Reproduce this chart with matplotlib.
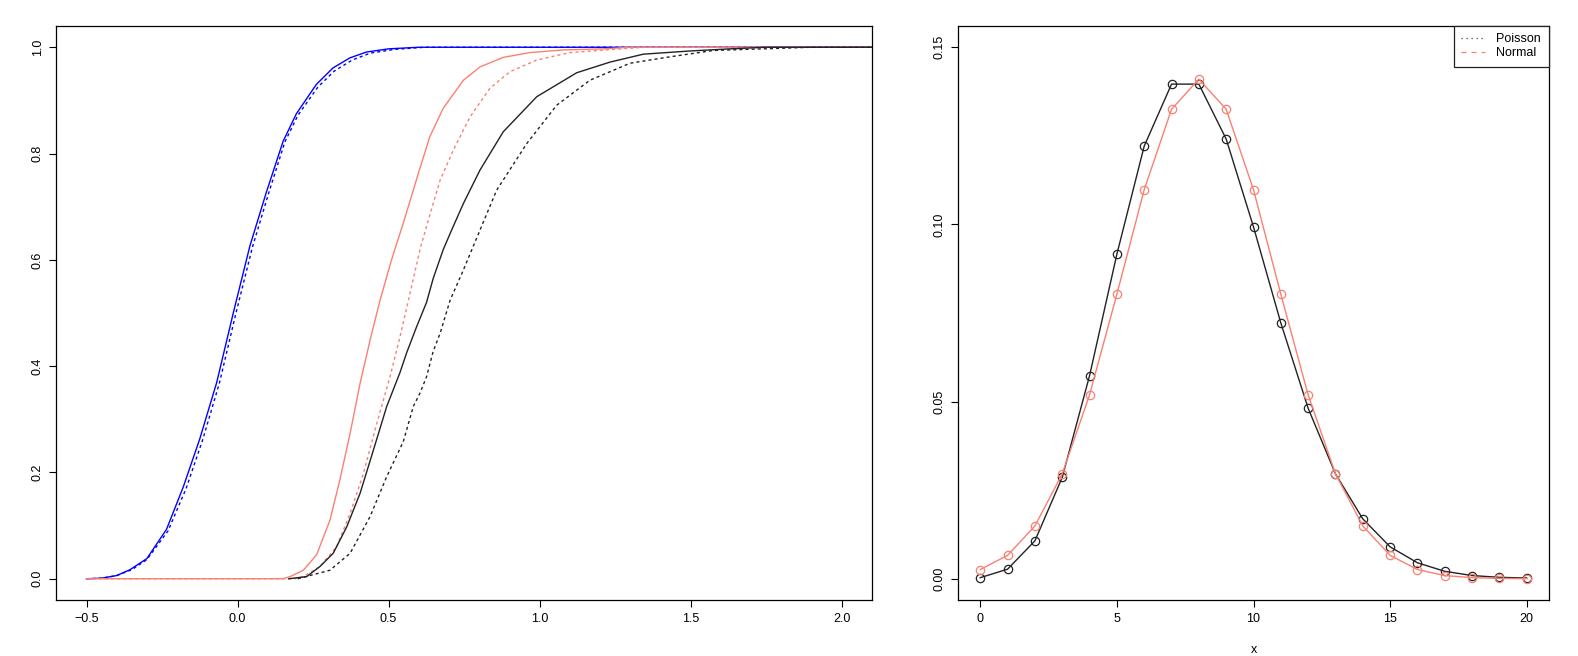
import matplotlib
matplotlib.use("Agg")
import matplotlib.pyplot as plt

plt.rcParams['font.family'] = ['Liberation Sans', 'DejaVu Sans']

blue_x = [-0.50, -0.45, -0.40, -0.356, -0.30, -0.235, -0.18, -0.125, -0.069, -0.014, 0.041,
          0.096, 0.151, 0.195, 0.261, 0.316, 0.372, 0.427, 0.50, 0.60, 2.10]
blue_F = [0.0, 0.001, 0.006, 0.017, 0.038, 0.093, 0.172, 0.263, 0.369, 0.50, 0.626,
          0.728, 0.823, 0.875, 0.930, 0.961, 0.980, 0.991, 0.997, 1.0, 1.0]
blue2_x = [-0.50, -0.45, -0.40, -0.35, -0.30, -0.23, -0.17, -0.115, -0.06, -0.005, 0.05,
           0.104, 0.157, 0.20, 0.266, 0.32, 0.38, 0.44, 0.52, 0.62, 2.10]
blue2_F = [0.0, 0.001, 0.006, 0.017, 0.036, 0.090, 0.170, 0.262, 0.368, 0.50, 0.625,
           0.727, 0.822, 0.872, 0.925, 0.955, 0.976, 0.989, 0.996, 1.0, 1.0]
red_x = [-0.50, 0.15, 0.174, 0.218, 0.262, 0.306, 0.339, 0.373, 0.406, 0.439, 0.472, 0.51,
         0.555, 0.60, 0.637, 0.681, 0.748, 0.803, 0.880, 0.969, 1.079, 1.211, 1.30, 2.10]
red_F = [0.0, 0.0, 0.004, 0.016, 0.045, 0.110, 0.186, 0.274, 0.368, 0.449, 0.524, 0.600,
         0.680, 0.765, 0.832, 0.885, 0.938, 0.963, 0.981, 0.990, 0.995, 0.997, 1.0, 1.0]
red2_x = [-0.50, 0.19, 0.218, 0.273, 0.328, 0.373, 0.417, 0.461, 0.505, 0.538, 0.566, 0.604,
          0.637, 0.671, 0.715, 0.770, 0.836, 0.902, 0.991, 1.101, 1.244, 1.35, 2.10]
red2_F = [0.0, 0.0, 0.004, 0.023, 0.060, 0.123, 0.198, 0.292, 0.380, 0.455, 0.524, 0.619,
          0.685, 0.750, 0.807, 0.869, 0.923, 0.954, 0.976, 0.990, 0.996, 1.0, 1.0]
black_x = [0.17, 0.229, 0.273, 0.317, 0.362, 0.406, 0.450, 0.494, 0.538, 0.560, 0.593, 0.626,
           0.648, 0.681, 0.709, 0.748, 0.803, 0.880, 0.991, 1.123, 1.233, 1.344, 1.498, 1.631,
           1.75, 2.10]
black_F = [0.0, 0.004, 0.023, 0.048, 0.098, 0.161, 0.242, 0.324, 0.388, 0.425, 0.474, 0.52,
           0.565, 0.619, 0.656, 0.706, 0.769, 0.841, 0.907, 0.952, 0.972, 0.987, 0.993, 0.997,
           1.0, 1.0]
black2_x = [0.20, 0.306, 0.373, 0.439, 0.494, 0.549, 0.582, 0.604, 0.626, 0.648, 0.671, 0.704,
            0.748, 0.803, 0.858, 0.958, 1.057, 1.167, 1.300, 1.432, 1.576, 1.741, 1.90, 2.10]
black2_F = [0.0, 0.016, 0.048, 0.117, 0.192, 0.258, 0.324, 0.349, 0.380, 0.428, 0.462, 0.524,
            0.581, 0.656, 0.731, 0.819, 0.891, 0.938, 0.970, 0.982, 0.994, 0.997, 1.0, 1.0]

# right panel: Poisson(8) pmf vs normal density
k = list(range(21))
poisson = [0.0003, 0.0027, 0.0107, 0.0286, 0.0573, 0.0916, 0.1221, 0.1396, 0.1396, 0.1241,
           0.0993, 0.0722, 0.0481, 0.0296, 0.0169, 0.0090, 0.0045, 0.0021, 0.0009, 0.0004, 0.0002]
normal = [0.0026, 0.0066, 0.0149, 0.0296, 0.0519, 0.0803, 0.1098, 0.1325, 0.1410, 0.1325,
          0.1098, 0.0803, 0.0519, 0.0296, 0.0149, 0.0066, 0.0026, 0.0009, 0.0003, 0.0001, 0.0000]

salmon = '#FA8072'
fs = 9
W, H = 1578, 656

fig = plt.figure(figsize=(W / 100, H / 100), dpi=100)


def style(ax):
    for s in ax.spines.values():
        s.set_linewidth(0.9)
    ax.tick_params(length=5, width=0.8, pad=4, labelsize=fs)
    for lab in ax.get_yticklabels():
        lab.set_rotation(90)
        lab.set_va('center')


ax1 = fig.add_axes([56.3 / W, 1 - 600 / H, (871.7 - 56.3) / W, (600 - 26) / H])
ax1.plot(blue_x, blue_F, color='blue', lw=1.0)
ax1.plot(blue2_x, blue2_F, color='blue', lw=1.0, dashes=(2.2, 2.2))
ax1.plot(red_x, red_F, color=salmon, lw=1.0)
ax1.plot(red2_x, red2_F, color=salmon, lw=1.0, dashes=(2.2, 2.2))
ax1.plot(black_x, black_F, color='#222222', lw=1.0)
ax1.plot(black2_x, black2_F, color='#222222', lw=1.0, dashes=(2.2, 2.2))
ax1.set_xlim(-0.6, 2.1)
ax1.set_ylim(-0.04, 1.04)
ax1.set_xticks([-0.5, 0.0, 0.5, 1.0, 1.5, 2.0])
ax1.set_xticklabels(['\u22120.5', '0.0', '0.5', '1.0', '1.5', '2.0'])
ax1.set_yticks([0.0, 0.2, 0.4, 0.6, 0.8, 1.0])
ax1.set_yticklabels(['0.0', '0.2', '0.4', '0.6', '0.8', '1.0'])
style(ax1)

ax2 = fig.add_axes([958.4 / W, 1 - 600 / H, (1548.6 - 958.4) / W, (600 - 26) / H])
ax2.plot(k, poisson, color='#222222', lw=1.0, marker='o', ms=6, mfc='none', mew=0.9)
ax2.plot(k, normal, color=salmon, lw=1.0, marker='o', ms=6, mfc='none', mew=0.9)
ax2.set_xlim(-0.8, 20.8)
ax2.set_ylim(-0.006, 0.156)
ax2.set_xticks([0, 5, 10, 15, 20])
ax2.set_yticks([0.00, 0.05, 0.10, 0.15])
ax2.set_yticklabels(['0.00', '0.05', '0.10', '0.15'])
ax2.set_xlabel('x', fontsize=fs, labelpad=14)
style(ax2)

h1, = ax2.plot([], [], color='#444444', lw=0.9, dashes=(1, 3))
h2, = ax2.plot([], [], color=salmon, lw=0.9, dashes=(4, 4))
leg = ax2.legend([h1, h2], ['Poisson', 'Normal'], loc='upper right', fontsize=fs,
                 borderaxespad=0, fancybox=False, framealpha=1, edgecolor='#222222',
                 handlelength=1.9, handletextpad=0.9, labelspacing=0.15, borderpad=0.6)
leg.get_frame().set_linewidth(0.9)

fig.savefig('out.png', dpi=100)
